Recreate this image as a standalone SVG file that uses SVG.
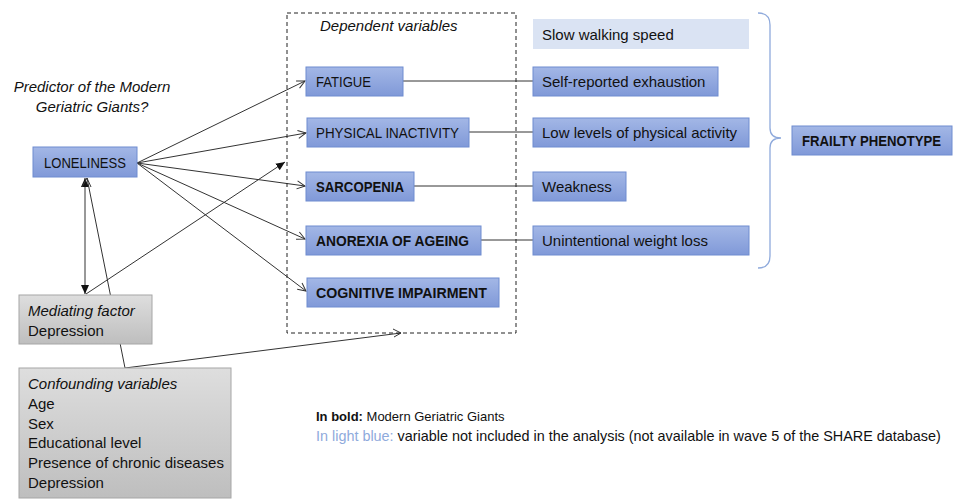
<svg xmlns="http://www.w3.org/2000/svg" width="955" height="500" viewBox="0 0 955 500">
<defs>
<linearGradient id="gBlue" x1="0" y1="0" x2="0" y2="1">
<stop offset="0" stop-color="#A3B7E6"/>
<stop offset="1" stop-color="#8099D8"/>
</linearGradient>
<linearGradient id="gGray" x1="0" y1="0" x2="0" y2="1">
<stop offset="0" stop-color="#DEDEDE"/>
<stop offset="1" stop-color="#BEBEBE"/>
</linearGradient>
<marker id="open" markerWidth="10" markerHeight="10" refX="9" refY="5" orient="auto" markerUnits="userSpaceOnUse">
<path d="M1,1 L9,5 L1,9" fill="none" stroke="#333" stroke-width="1"/>
</marker>
<marker id="filled" markerWidth="10" markerHeight="10" refX="9" refY="5" orient="auto-start-reverse" markerUnits="userSpaceOnUse">
<path d="M0,1 L9,5 L0,9 Z" fill="#111"/>
</marker>
</defs>
<style>
text{font-family:"Liberation Sans",Arial,sans-serif;font-size:15px;fill:#111}
.caps{font-size:14.5px}
.it{font-style:italic}
.b{font-weight:bold}
.box{fill:url(#gBlue);stroke:#6F8CD0;stroke-width:1}
.lbox{fill:#DAE3F3;stroke:none}
.gbox{fill:url(#gGray);stroke:#A6A6A6;stroke-width:1}
.ln{fill:none;stroke:#333;stroke-width:1}
</style>
<rect width="955" height="500" fill="#fff"/>

<g id="connectors">
<line class="ln" x1="137" y1="163" x2="305" y2="81" marker-end="url(#open)"/>
<line class="ln" x1="137" y1="163" x2="306" y2="133" marker-end="url(#open)"/>
<line class="ln" x1="137" y1="163" x2="305" y2="186" marker-end="url(#open)"/>
<line class="ln" x1="137" y1="163" x2="305" y2="239" marker-end="url(#open)"/>
<line class="ln" x1="137" y1="163" x2="306" y2="291" marker-end="url(#open)"/>
<line class="ln" x1="85" y1="178" x2="85" y2="294" marker-start="url(#filled)" marker-end="url(#filled)"/>
<line class="ln" x1="86" y1="294" x2="285" y2="162" marker-end="url(#filled)"/>
<polyline class="ln" points="87,178 125,368 401,333"/>
<path class="ln" d="M82,187 L87,178 L91,187"/>
<path class="ln" d="M393,329 L401,333 L394,337"/>
<line class="ln" x1="403" y1="81" x2="533" y2="81"/>
<line class="ln" x1="469" y1="132" x2="533" y2="132"/>
<line class="ln" x1="414" y1="186" x2="533" y2="186"/>
<line class="ln" x1="481" y1="240" x2="533" y2="240"/>
<path d="M758,13 Q770,13 770,25 L770,128 Q770,138 781,138 Q770,138 770,148 L770,256 Q770,268 758,268" fill="none" stroke="#8FAADC" stroke-width="1.3"/>
</g>

<g id="dependent-frame">
<rect x="287" y="13" width="229" height="320" fill="none" stroke="#222" stroke-width="1" stroke-dasharray="4,3"/>
<text class="it" x="320" y="31">Dependent variables</text>
</g>

<g id="predictor-label">
<text class="it" x="92" y="92" text-anchor="middle">Predictor of the Modern</text>
<text class="it" x="92" y="112" text-anchor="middle">Geriatric Giants?</text>
</g>

<g id="loneliness">
<rect class="box" x="33" y="147" width="104" height="30"/>
<text class="caps" x="44" y="168" textLength="82" lengthAdjust="spacingAndGlyphs">LONELINESS</text>
</g>

<g id="fatigue">
<rect class="box" x="306" y="67" width="97" height="29"/>
<text class="caps" x="316" y="87" textLength="55" lengthAdjust="spacingAndGlyphs">FATIGUE</text>
</g>
<g id="physical-inactivity">
<rect class="box" x="307" y="118" width="162" height="29"/>
<text class="caps" x="316" y="138" textLength="143" lengthAdjust="spacingAndGlyphs">PHYSICAL INACTIVITY</text>
</g>
<g id="sarcopenia">
<rect class="box" x="306" y="172" width="108" height="29"/>
<text class="caps b" x="316" y="192" textLength="88" lengthAdjust="spacingAndGlyphs">SARCOPENIA</text>
</g>
<g id="anorexia">
<rect class="box" x="306" y="226" width="175" height="29"/>
<text class="caps b" x="316" y="246" textLength="153" lengthAdjust="spacingAndGlyphs">ANOREXIA OF AGEING</text>
</g>
<g id="cognitive">
<rect class="box" x="307" y="278" width="192" height="29"/>
<text class="caps b" x="316" y="298" textLength="171" lengthAdjust="spacingAndGlyphs">COGNITIVE IMPAIRMENT</text>
</g>

<g id="slow-walking">
<rect class="lbox" x="533" y="19" width="216" height="30"/>
<text x="542" y="40">Slow walking speed</text>
</g>
<g id="exhaustion">
<rect class="box" x="533" y="67" width="185" height="29"/>
<text x="542" y="87">Self-reported exhaustion</text>
</g>
<g id="low-activity">
<rect class="box" x="533" y="118" width="216" height="29"/>
<text x="542" y="138">Low levels of physical activity</text>
</g>
<g id="weakness">
<rect class="box" x="533" y="172" width="93" height="29"/>
<text x="542" y="192">Weakness</text>
</g>
<g id="weight-loss">
<rect class="box" x="533" y="226" width="216" height="29"/>
<text x="542" y="246">Unintentional weight loss</text>
</g>

<g id="frailty">
<rect class="box" x="792" y="126" width="160" height="29"/>
<text class="caps b" x="802" y="146" textLength="139" lengthAdjust="spacingAndGlyphs">FRAILTY PHENOTYPE</text>
</g>

<g id="mediating">
<rect class="gbox" x="19" y="295" width="133" height="49"/>
<text class="it" x="28" y="316">Mediating factor</text>
<text x="28" y="336">Depression</text>
</g>

<g id="confounding">
<rect class="gbox" x="19" y="368" width="212" height="130"/>
<text class="it" x="28" y="389">Confounding variables</text>
<text x="28" y="409">Age</text>
<text x="28" y="429">Sex</text>
<text x="28" y="448">Educational level</text>
<text x="28" y="468">Presence of chronic diseases</text>
<text x="28" y="488">Depression</text>
</g>

<g id="legend">
<text x="316" y="421" style="font-size:13px"><tspan class="b">In bold:</tspan> Modern Geriatric Giants</text>
<text x="316" y="441" style="font-size:14.4px"><tspan fill="#8FAADC">In light blue:</tspan> variable not included in the analysis (not available in wave 5 of the SHARE database)</text>
</g>
</svg>
